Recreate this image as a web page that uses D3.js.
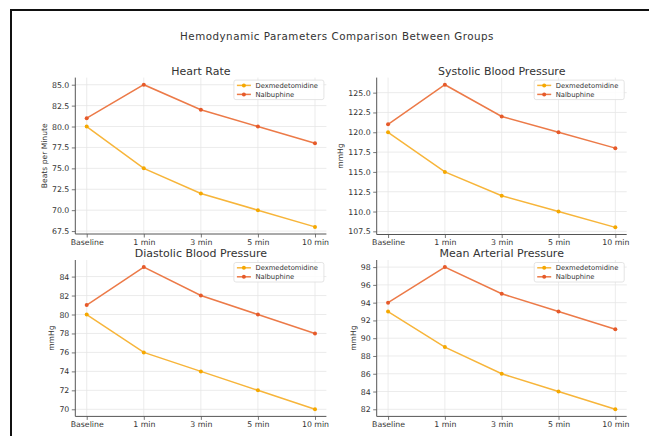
<!DOCTYPE html>
<html>
<head>
<meta charset="utf-8">
<script src="https://cdn.jsdelivr.net/npm/d3@7"></script>
<style>
  html, body { margin: 0; padding: 0; background: #fff; }
  svg { display: block; font-family: "DejaVu Sans", sans-serif; }
</style>
</head>
<body>
<svg id="chart" width="649" height="436"></svg>
<script>
// ---- data ----
const categories = ["Baseline", "1 min", "3 min", "5 min", "10 min"];
const seriesNames = ["Dexmedetomidine", "Nalbuphine"];

const hrDex = [80, 75, 72, 70, 68];
const hrNal = [81, 85, 82, 80, 78];
const sbpDex = [120, 115, 112, 110, 108];
const sbpNal = [121, 126, 122, 120, 118];
const dbpDex = [80, 76, 74, 72, 70];
const dbpNal = [81, 85, 82, 80, 78];
const mapDex = [93, 89, 86, 84, 82];
const mapNal = [94, 98, 95, 93, 91];

const hrTicks = [67.5, 70.0, 72.5, 75.0, 77.5, 80.0, 82.5, 85.0];
const sbpTicks = [107.5, 110.0, 112.5, 115.0, 117.5, 120.0, 122.5, 125.0];
const dbpTicks = [70, 72, 74, 76, 78, 80, 82, 84];
const mapTicks = [82, 84, 86, 88, 90, 92, 94, 96, 98];

const mainTitle = "Hemodynamic Parameters Comparison Between Groups";
const panelTitles = ["Heart Rate", "Systolic Blood Pressure", "Diastolic Blood Pressure", "Mean Arterial Pressure"];
const yLabels = ["Beats per Minute", "mmHg", "mmHg", "mmHg"];

// ---- styling / layout ----
const colors = ["#F7B53A", "#EC7A48"];
const markerColors = ["#F5A800", "#E65A2A"];
const boxes = [
  { x0: 75.3, x1: 326.4, y0: 77.6, y1: 234 },
  { x0: 376.7, x1: 626.7, y0: 77.6, y1: 234.5 },
  { x0: 75.3, x1: 326.4, y0: 260, y1: 416.4 },
  { x0: 376.7, x1: 626.7, y0: 260, y1: 416.4 }
];
const panels = [
  { series: [hrDex, hrNal], ticks: hrTicks, fmt: d3.format(".1f") },
  { series: [sbpDex, sbpNal], ticks: sbpTicks, fmt: d3.format(".1f") },
  { series: [dbpDex, dbpNal], ticks: dbpTicks, fmt: d3.format("d") },
  { series: [mapDex, mapNal], ticks: mapTicks, fmt: d3.format("d") }
];

const svg = d3.select("#chart");

// outer frame
svg.append("rect").attr("x", 11).attr("y", 10).attr("width", 660).attr("height", 460)
  .attr("fill", "none").attr("stroke", "#111").attr("stroke-width", 2);

svg.append("text").attr("x", 337).attr("y", 40).attr("text-anchor", "middle")
  .attr("font-size", 10.3).attr("letter-spacing", 0.5).attr("fill", "#333").text(mainTitle);

panels.forEach((p, i) => {
  const b = boxes[i];
  const all = p.series.flat();
  const mn = d3.min(all), mx = d3.max(all), pad = (mx - mn) * 0.05;
  const x = d3.scalePoint().domain(categories).range([b.x0, b.x1]).padding(0.2);
  const y = d3.scaleLinear().domain([mn - pad, mx + pad]).range([b.y1, b.y0]);
  const g = svg.append("g");

  // grid
  g.append("g").selectAll("line").data(p.ticks).join("line")
    .attr("x1", b.x0).attr("x2", b.x1).attr("y1", d => y(d)).attr("y2", d => y(d))
    .attr("stroke", "#e6e6e6").attr("stroke-width", 0.8);
  g.append("g").selectAll("line").data(categories).join("line")
    .attr("y1", b.y0).attr("y2", b.y1).attr("x1", d => x(d)).attr("x2", d => x(d))
    .attr("stroke", "#e6e6e6").attr("stroke-width", 0.8);

  // axes
  const ya = g.append("g").attr("transform", `translate(${b.x0},0)`)
    .call(d3.axisLeft(y).tickValues(p.ticks).tickFormat(p.fmt).tickSize(3.5).tickPadding(2.5));
  const xa = g.append("g").attr("transform", `translate(0,${b.y1})`)
    .call(d3.axisBottom(x).tickSize(3.5).tickPadding(1.5));
  [ya, xa].forEach(a => {
    a.select(".domain").attr("stroke", "#555").attr("stroke-width", 1);
    a.selectAll(".tick line").attr("stroke", "#555").attr("stroke-width", 0.8);
    a.selectAll(".tick text").attr("fill", "#333").attr("font-size", 7.8)
      .attr("font-family", "DejaVu Sans, sans-serif");
  });
  ya.select(".domain").attr("d", `M0,${b.y0}V${b.y1}`);
  xa.select(".domain").attr("d", `M${b.x0},0H${b.x1}`);

  // y label
  const bb = ya.node().getBBox();
  const lx = b.x0 + bb.x - 5;
  g.append("text").attr("transform", `translate(${lx},${(b.y0 + b.y1) / 2}) rotate(-90)`)
    .attr("text-anchor", "middle").attr("font-size", 7.6).attr("fill", "#333").text(yLabels[i]);

  // title
  g.append("text").attr("x", (b.x0 + b.x1) / 2).attr("y", b.y0 - 3).attr("text-anchor", "middle")
    .attr("font-size", 11).attr("fill", "#333").text(panelTitles[i]);

  // lines
  const line = d3.line().x((d, j) => x(categories[j])).y(d => y(d));
  p.series.forEach((s, k) => {
    g.append("path").datum(s).attr("d", line).attr("fill", "none")
      .attr("stroke", colors[k]).attr("stroke-width", 1.5);
    g.append("g").selectAll("circle").data(s).join("circle")
      .attr("cx", (d, j) => x(categories[j])).attr("cy", d => y(d)).attr("r", 2)
      .attr("fill", markerColors[k]);
  });

  // legend
  const lw = 90, lh = 19.5;
  const lg = g.append("g").attr("transform", `translate(${b.x1 - 2.5 - lw},${b.y0 + 2.5})`);
  lg.append("rect").attr("width", lw).attr("height", lh).attr("rx", 2)
    .attr("fill", "#fff").attr("fill-opacity", 0.85).attr("stroke", "#ddd").attr("stroke-width", 0.8);
  seriesNames.forEach((n, k) => {
    const yy = 5.3 + k * 9;
    lg.append("line").attr("x1", 3).attr("x2", 17).attr("y1", yy).attr("y2", yy)
      .attr("stroke", colors[k]).attr("stroke-width", 1.5);
    lg.append("circle").attr("cx", 10).attr("cy", yy).attr("r", 2).attr("fill", markerColors[k]);
    lg.append("text").attr("x", 21.5).attr("y", yy + 2.3).attr("font-size", 6.8)
      .attr("fill", "#333").text(n);
  });
});
</script>
</body>
</html>
